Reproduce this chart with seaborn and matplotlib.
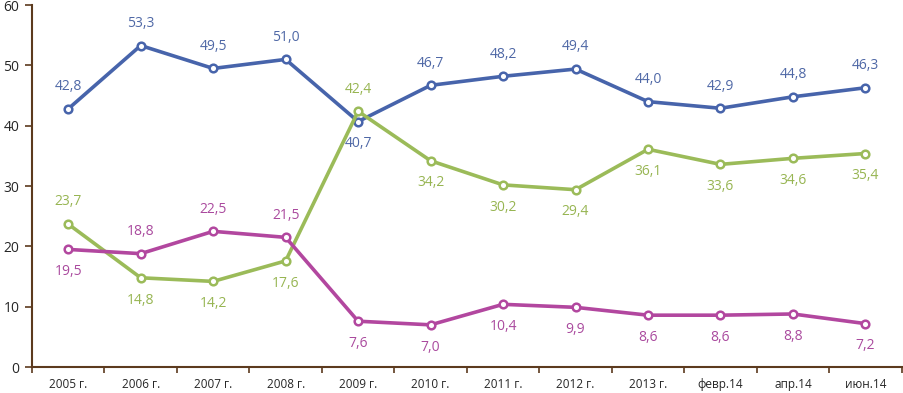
import numpy as np
import pandas as pd
import matplotlib
matplotlib.use("Agg")
import matplotlib.pyplot as plt
import seaborn as sns

periods = ['2005 г.', '2006 г.', '2007 г.', '2008 г.', '2009 г.', '2010 г.',
           '2011 г.', '2012 г.', '2013 г.', 'февр.14', 'апр.14', 'июн.14']
blue_vals = [42.8, 53.3, 49.5, 51.0, 40.7, 46.7, 48.2, 49.4, 44.0, 42.9, 44.8, 46.3]
green_vals = [23.7, 14.8, 14.2, 17.6, 42.4, 34.2, 30.2, 29.4, 36.1, 33.6, 34.6, 35.4]
magenta_vals = [19.5, 18.8, 22.5, 21.5, 7.6, 7.0, 10.4, 9.9, 8.6, 8.6, 8.8, 7.2]

# label above (+1) or below (-1) the point
blue_pos = [1, 1, 1, 1, -1, 1, 1, 1, 1, 1, 1, 1]
green_pos = [1, -1, -1, -1, 1, -1, -1, -1, -1, -1, -1, -1]
magenta_pos = [-1, 1, 1, 1, -1, -1, -1, -1, -1, -1, -1, -1]

series = {
    'blue': (blue_vals, blue_pos, '#4764AB', '#4F68A6'),
    'green': (green_vals, green_pos, '#9BBB59', '#97B552'),
    'magenta': (magenta_vals, magenta_pos, '#B2479F', '#AA4A9E'),
}

rows = []
for name, (vals, _, _, _) in series.items():
    for i, v in enumerate(vals):
        rows.append({'x': i, 'period': periods[i], 'value': v, 'series': name})
df = pd.DataFrame(rows)

sns.set_style("white")
plt.rcParams['font.family'] = ['Open Sans', 'DejaVu Sans']

fig = plt.figure(figsize=(9.04, 3.93), dpi=100)
ax = fig.add_axes([0.0354, 0.066, 0.962, 0.921])

palette = {k: v[2] for k, v in series.items()}
sns.lineplot(data=df, x='x', y='value', hue='series', palette=palette,
             marker='o', markersize=5.5, markerfacecolor='white',
             markeredgewidth=1.8, linewidth=2.6, legend=False, ax=ax)
for line in ax.lines:
    line.set_markeredgecolor(line.get_color())

for name, (vals, pos, _, lc) in series.items():
    for i, (v, p) in enumerate(zip(vals, pos)):
        ax.annotate(f"{v:.1f}".replace('.', ','), (i, v),
                    xytext=(0, 16 * p), textcoords='offset points',
                    ha='center', va='center', fontsize=10, color=lc)

spine_col = '#5C3A1E'
ax.set_xlim(-0.5, len(periods) - 0.5)
ax.set_ylim(0, 60)
ax.set_yticks(np.arange(0, 61, 10))
ax.set_xticks(range(len(periods)))
ax.set_xticklabels(periods, fontsize=8.5)
ax.set_xticks(np.arange(-0.5, len(periods), 1), minor=True)
ax.tick_params(axis='x', which='major', length=0, pad=8)
ax.tick_params(axis='x', which='minor', length=4, width=1.2, color=spine_col,
               direction='out', bottom=True)
ax.tick_params(axis='y', length=5, width=1.2, color=spine_col,
               direction='out', left=True, labelsize=10, pad=4)
ax.set_xlabel('')
ax.set_ylabel('')
for s in ['top', 'right']:
    ax.spines[s].set_visible(False)
for s in ['left', 'bottom']:
    ax.spines[s].set_color(spine_col)
    ax.spines[s].set_linewidth(1.5)

fig.savefig('out.png', dpi=100)
